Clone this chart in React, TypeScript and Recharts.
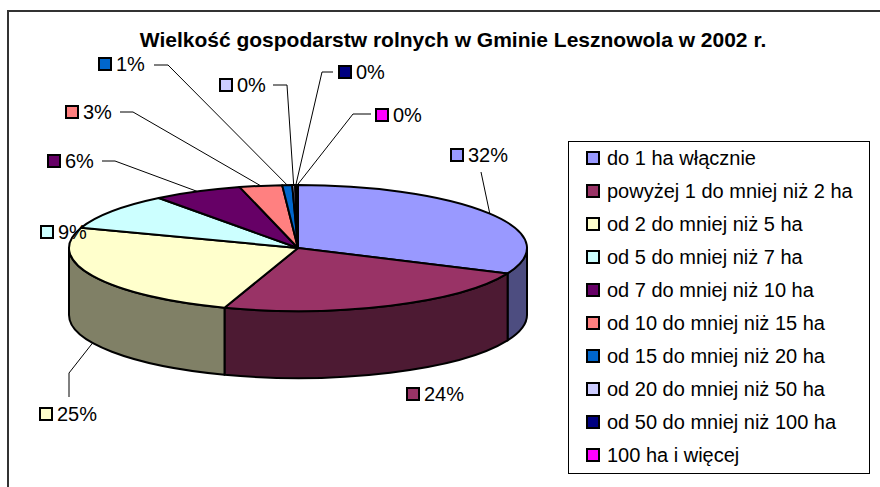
import React from 'react';
import { PieChart, Pie, Legend } from 'recharts';

const title = 'Wielkość gospodarstw rolnych w Gminie Lesznowola w 2002 r.';
const categories = [
  'do 1 ha włącznie',
  'powyżej 1 do mniej niż 2 ha',
  'od 2 do mniej niż 5 ha',
  'od 5 do mniej niż 7 ha',
  'od 7 do mniej niż 10 ha',
  'od 10 do mniej niż 15 ha',
  'od 15 do mniej niż 20 ha',
  'od 20 do mniej niż 50 ha',
  'od 50 do mniej niż 100 ha',
  '100 ha i więcej',
];
const shares = [31.6, 23.6, 25.0, 9.4, 6.3, 3.0, 0.7, 0.2, 0.1, 0.1];
const colors = ['#9999FF', '#993366', '#FFFFCC', '#CCFFFF', '#660066', '#FF8080', '#0066CC', '#CCCCFF', '#000080', '#FF00FF'];

const data = categories.map((name, i) => ({ name, value: shares[i] }));

// layout of the manually placed data labels (box left x, centre y, leader points, attach to wall bottom)
const labelLayout: { x: number; y: number; leader: number[][]; wall?: boolean }[] = [
  { x: 450, y: 155, leader: [[481, 172]] },
  { x: 406, y: 394, leader: [] },
  { x: 39, y: 414, leader: [[69, 397], [69, 373]], wall: true },
  { x: 40, y: 232, leader: [] },
  { x: 47, y: 161, leader: [[102, 161], [115, 161]] },
  { x: 65, y: 112, leader: [[120, 112], [133, 112]] },
  { x: 98, y: 64, leader: [[154, 65], [168, 65]] },
  { x: 219, y: 85, leader: [[273, 85], [287, 85]] },
  { x: 338, y: 72, leader: [[333, 72], [322, 72]] },
  { x: 375, y: 115, leader: [[371, 114], [353, 114]] },
];

const FONT = '"Liberation Sans", Arial, sans-serif';
const TILT = 63 / 229;
const DEPTH = 67;
const RAD = Math.PI / 180;

const shade = (hex: string) => {
  const n = parseInt(hex.slice(1), 16);
  const r = Math.round(((n >> 16) & 255) / 2);
  const g = Math.round(((n >> 8) & 255) / 2);
  const b = Math.round((n & 255) / 2);
  return `rgb(${r},${g},${b})`;
};

const renderSlice = (p: any) => {
  const { cx, cy, outerRadius, startAngle, endAngle, index } = p;
  const rx = outerRadius;
  const ry = outerRadius * TILT;
  const pt = (a: number, dy = 0) => [cx + rx * Math.cos(a * RAD), cy - ry * Math.sin(a * RAD) + dy];
  const hi = Math.max(startAngle, endAngle);
  const lo = Math.min(startAngle, endAngle);
  const large = hi - lo > 180 ? 1 : 0;
  const [x0, y0] = pt(hi);
  const [x1, y1] = pt(lo);
  const top = `M${cx},${cy} L${x0},${y0} A${rx},${ry} 0 ${large} 1 ${x1},${y1} Z`;
  const b0 = Math.min(hi, 0);
  const b1 = Math.max(lo, -180);
  let wall: string | null = null;
  if (b0 > b1) {
    const [wx0, wy0] = pt(b0);
    const [wx1, wy1] = pt(b1);
    const [vx1, vy1] = pt(b1, DEPTH);
    const [vx0, vy0] = pt(b0, DEPTH);
    wall = `M${wx0},${wy0} A${rx},${ry} 0 0 1 ${wx1},${wy1} L${vx1},${vy1} A${rx},${ry} 0 0 0 ${vx0},${vy0} Z`;
  }
  return (
    <g key={`slice-${index}`}>
      {wall && <path d={wall} fill={shade(colors[index])} stroke="#000" strokeWidth={2} strokeLinejoin="round" />}
      <path d={top} fill={colors[index]} stroke="#000" strokeWidth={2} strokeLinejoin="round" />
    </g>
  );
};

const renderLabel = (p: any) => {
  const { cx, cy, outerRadius, midAngle, index, percent } = p;
  const L = labelLayout[index];
  const rx = outerRadius;
  const ry = outerRadius * TILT;
  const ex = cx + rx * Math.cos(midAngle * RAD);
  const ey = cy - ry * Math.sin(midAngle * RAD) + (L.wall ? DEPTH : 0);
  const pts = L.leader.length ? [...L.leader, [ex, ey]].map((q) => q.join(',')).join(' ') : null;
  return (
    <g key={`lbl-${index}`}>
      {pts && <polyline points={pts} fill="none" stroke="#000" strokeWidth={1} />}
      <rect x={L.x + 1} y={L.y - 6} width={12} height={12} fill={colors[index]} stroke="#000" strokeWidth={2} />
      <text x={L.x + 18} y={L.y + 7} fontSize={20} fontFamily={FONT} fill="#000">
        {`${Math.round(percent * 100)}%`}
      </text>
    </g>
  );
};

const renderLegend = () => {
  return (
    <div
      style={{
        width: 302,
        height: 333,
        boxSizing: 'border-box',
        border: '1px solid #000',
        background: '#fff',
        position: 'relative',
        fontFamily: FONT,
        fontSize: 20,
        color: '#000',
      }}
    >
      {categories.map((name, i) => (
        <div
          key={`leg-${i}`}
          style={{
            position: 'absolute',
            left: 17,
            top: 4 + 33 * i,
            height: 24,
            lineHeight: '24px',
            display: 'flex',
            alignItems: 'center',
            whiteSpace: 'nowrap',
          }}
        >
          <span
            style={{
              display: 'inline-block',
              width: 10,
              height: 10,
              border: '2px solid #000',
              background: colors[i],
              marginRight: 7,
            }}
          />
          <span>{name}</span>
        </div>
      ))}
    </div>
  );
};

export default function App() {
  return (
    <div style={{ position: 'absolute', left: 0, top: 0, width: 880, height: 487, overflow: 'hidden', background: '#fff' }}>
      <div
        style={{
          position: 'absolute',
          left: 7,
          top: 10,
          width: 873,
          height: 477,
          borderTop: '2px solid #333',
          borderLeft: '2px solid #333',
          boxSizing: 'border-box',
        }}
      />
      <div
        style={{
          position: 'absolute',
          left: 0,
          width: 906,
          top: 28,
          textAlign: 'center',
          fontFamily: FONT,
          fontWeight: 'bold',
          fontSize: 21,
          lineHeight: '24px',
          color: '#000',
          whiteSpace: 'nowrap',
          zIndex: 2,
        }}
      >
        {title}
      </div>
      <div style={{ position: 'absolute', left: 0, top: 0 }}>
        <PieChart width={880} height={487} margin={{ top: 0, right: 0, bottom: 0, left: 0 }}>
          <Pie
            data={data}
            dataKey="value"
            nameKey="name"
            cx={298}
            cy={248}
            outerRadius={229}
            startAngle={90}
            endAngle={-270}
            fill="none"
            stroke="none"
            label={renderSlice}
            labelLine={false}
            isAnimationActive={false}
          />
          <Pie
            data={data}
            dataKey="value"
            nameKey="name"
            cx={298}
            cy={248}
            outerRadius={229}
            startAngle={90}
            endAngle={-270}
            fill="none"
            stroke="none"
            legendType="none"
            label={renderLabel}
            labelLine={false}
            isAnimationActive={false}
          />
          <Legend
            layout="vertical"
            align="right"
            verticalAlign="middle"
            content={renderLegend}
            wrapperStyle={{ position: 'absolute', left: 568, top: 141, width: 302, height: 333 }}
          />
        </PieChart>
      </div>
    </div>
  );
}
